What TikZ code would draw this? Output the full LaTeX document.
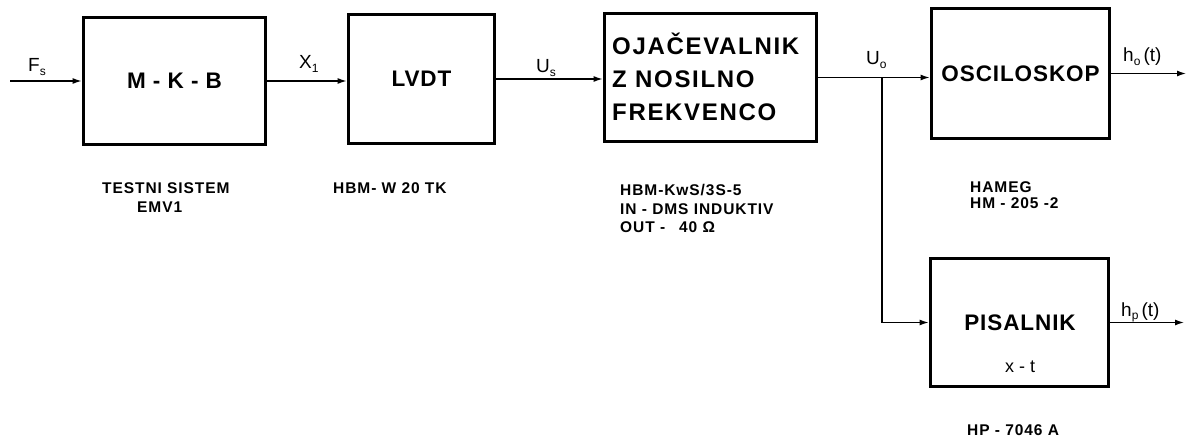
\documentclass[tikz,border=0pt]{standalone}
\usepackage{fontspec}
\setmainfont{Liberation Sans}
\setsansfont{Liberation Sans}
\newfontfamily\lblfont[LetterSpace=6]{Liberation Sans}
\newfontfamily\bigfont[LetterSpace=4]{Liberation Sans}
\newfontfamily\ampfont[LetterSpace=7]{Liberation Sans}
\usetikzlibrary{arrows.meta}
\newcommand\sbs[1]{\raisebox{-3.5pt}{\fontsize{12}{12}\selectfont #1}}
\tikzset{
  blk/.style={draw, line width=3.8pt, minimum width=#1, inner sep=0pt},
  blk/.default=180pt,
  big/.style={font=\bigfont\fontsize{22.5}{23}\selectfont\bfseries},
  ampt/.style={font=\ampfont\fontsize{24}{24}\selectfont\bfseries},
  sig/.style={font=\fontsize{19}{19}\selectfont, inner sep=0pt, anchor=base west},
  info/.style={font=\lblfont\fontsize{15.5}{16}\selectfont\bfseries, inner sep=0pt, anchor=base west},
  conn/.style={line width=1.3pt, -{Latex[length=9pt,width=6pt]}},
}
\begin{document}
\begin{tikzpicture}[x=1pt,y=-1pt]
\useasboundingbox (0,0) rectangle (1188,441);
% blocks
\node[blk=182pt, minimum height=127pt, big] (mkb) at (174.5,81) {M - K - B};
\node[blk=146pt, minimum height=129pt, big] (lvdt) at (421.5,79) {LVDT};
\node[blk=212pt, minimum height=128pt] (amp) at (710.5,77.5) {};
\node[ampt, anchor=north west, align=left, inner sep=0pt] (amptxt) at (612,33)
  {OJAČEVALNIK\\[9pt]Z NOSILNO\\[9pt]FREKVENCO};
\node[blk=178pt, minimum height=130pt, big] (osc) at (1020.5,73.5) {OSCILOSKOP};
\node[blk=178pt, minimum height=128pt] (pis) at (1019.5,322.5) {};
\node[big] (pistxt) at (1020,323) {PISALNIK};
\node[font=\fontsize{18}{18}\selectfont, inner sep=0pt, anchor=base] (xt) at (1020,372) {x - t};
% wires
\coordinate (in) at (10,81);
\coordinate (br) at (882,77.5);
\coordinate (o1) at (1186,73.5);
\coordinate (o2) at (1184,322.5);
\draw[conn] (in) -- (mkb.west);
\draw[conn] (mkb.east) -- (mkb.east -| lvdt.west);
\draw[conn] (lvdt.east) -- (lvdt.east -| amp.west);
\draw[conn] (amp.east) -- (amp.east -| osc.west);
\draw[conn] (br) |- (pis.west);
\draw[conn] (osc.east) -- (o1);
\draw[conn] (pis.east) -- (o2);
% signal labels
\node[sig] (fs) at (28,72) {F\sbs{s}};
\node[sig] (x1) at (299,69) {X\sbs{1}};
\node[sig] (us) at (536,73) {U\sbs{s}};
\node[sig] (uo) at (866,65) {U\sbs{o}};
\node[sig] (ho) at (1123,62) {h\sbs{o}\,(t)};
\node[sig] (hp) at (1121,316) {h\sbs{p}\,(t)};
% info labels
\node[info] (i1) at (102,193) {TESTNI SISTEM};
\node[info] (i2) at (137,212) {EMV1};
\node[info] (i3) at (333,193) {HBM- W 20 TK};
\node[info] (i4) at (620,195) {HBM-KwS/3S-5};
\node[info] (i5) at (620,214) {IN - DMS INDUKTIV};
\node[info] (i6) at (620,232) {OUT -\hspace{14pt}40 Ω};
\node[info] (i7) at (970,192) {HAMEG};
\node[info] (i8) at (970,208) {HM - 205 -2};
\node[info] (i9) at (967,435) {HP - 7046 A};
\end{tikzpicture}
\end{document}
